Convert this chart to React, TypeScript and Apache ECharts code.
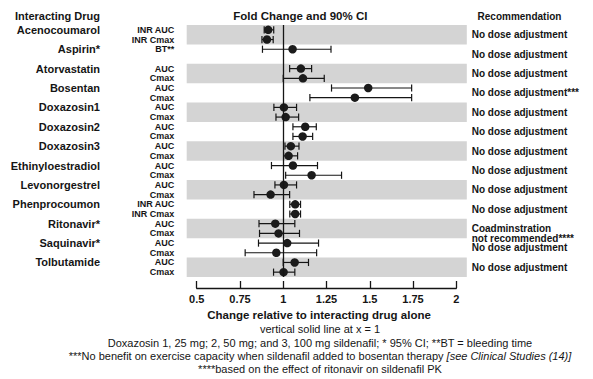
import React, { useEffect, useRef } from "react";
import * as echarts from "echarts";

const FONT = "'Liberation Sans', Arial, Helvetica, sans-serif";
const INK = "#151515";

const drugs = [
  "Acenocoumarol", "Aspirin*", "Atorvastatin", "Bosentan", "Doxazosin1", "Doxazosin2",
  "Doxazosin3", "Ethinyloestradiol", "Levonorgestrel", "Phenprocoumon", "Ritonavir*",
  "Saquinavir*", "Tolbutamide",
];

const recommendations = [
  "No dose adjustment", "No dose adjustment", "No dose adjustment", "No dose adjustment***",
  "No dose adjustment", "No dose adjustment", "No dose adjustment", "No dose adjustment",
  "No dose adjustment", "No dose adjustment", "\nCoadminstration\nnot recommended****",
  "No dose adjustment", "No dose adjustment",
];

const measures = [
  "INR AUC", "INR Cmax", "BT**", "", "AUC", "Cmax", "AUC", "Cmax", "AUC", "Cmax",
  "AUC", "Cmax", "AUC", "Cmax", "AUC", "Cmax", "AUC", "Cmax", "INR AUC", "INR Cmax",
  "AUC", "Cmax", "AUC", "Cmax", "AUC", "Cmax",
];

const foldChange = [
  0.913, 0.906, 1.054, null, 1.102, 1.114, 1.491, 1.414, 1.004, 1.014, 1.127, 1.112,
  1.044, 1.031, 1.056, 1.164, 1.004, 0.927, 1.069, 1.069, 0.954, 0.973, 1.023, 0.96,
  1.066, 1.002,
];
const ciLower = [
  0.89, 0.877, 0.88, null, 1.037, 1.0, 1.279, 1.154, 0.946, 0.958, 1.056, 1.056,
  1.01, 1.002, 0.932, 1.014, 0.952, 0.831, 1.038, 1.038, 0.86, 0.863, 0.857, 0.78,
  1.0, 0.944,
];
const ciUpper = [
  0.945, 0.942, 1.276, null, 1.164, 1.237, 1.742, 1.742, 1.077, 1.089, 1.191, 1.17,
  1.091, 1.083, 1.198, 1.337, 1.077, 1.037, 1.1, 1.1, 1.067, 1.094, 1.204, 1.193,
  1.146, 1.067,
];

const xAxisMin = 0.5;
const xAxisMax = 2;
const xAxisStep = 0.25;

const titleText = "Fold Change and 90% CI";
const leftHeader = "Interacting Drug";
const rightHeader = "Recommendation";
const xAxisTitle = "Change relative to interacting drug alone";
const footnotes = [
  "vertical solid line at x = 1",
  "Doxazosin 1, 25 mg; 2, 50 mg; and 3, 100 mg sildenafil; * 95% CI; **BT = bleeding time",
  "***No benefit on exercise capacity when sildenafil added to bosentan therapy {i|[see Clinical Studies (14)]}",
  "****based on the effect of ritonavir on sildenafil PK",
];

export default function App() {
  const ref = useRef<HTMLDivElement>(null);

  useEffect(() => {
    const chart = echarts.init(ref.current!, null, { renderer: "svg" });

    const slotIds = measures.map((_, i) => String(i));
    const groupIds = drugs.map((_, i) => String(i));
    const bandData = drugs
      .map((_, g) => g)
      .filter((g) => g % 2 === 0)
      .map((g) => [1, 2 * g, 2 * g + 1]);
    const errData: number[][] = [];
    const pointData: number[][] = [];
    foldChange.forEach((v, i) => {
      if (v == null) return;
      errData.push([i, ciLower[i] as number, ciUpper[i] as number]);
      pointData.push([v, i]);
    });

    const footYs = [329, 342.7, 355.7, 369];

    const option: any = {
      animation: false,
      backgroundColor: "#ffffff",
      textStyle: { fontFamily: FONT },
      grid: { left: 196.7, right: 136.7, top: 25, height: 252, containLabel: false },
      xAxis: {
        type: "value",
        min: xAxisMin,
        max: xAxisMax,
        interval: xAxisStep,
        offset: 11,
        axisLine: { show: true, lineStyle: { color: INK, width: 1.3 } },
        axisTick: { show: true, inside: true, length: 7, lineStyle: { color: INK, width: 1.3 } },
        axisLabel: {
          color: INK,
          fontFamily: FONT,
          fontWeight: "bold",
          fontSize: 11,
          margin: 5,
          showMinLabel: true,
          showMaxLabel: true,
        },
        splitLine: { show: false },
      },
      yAxis: [
        {
          type: "category",
          data: slotIds,
          inverse: true,
          position: "left",
          axisLine: { show: false },
          axisTick: { show: false },
          splitLine: { show: false },
          axisLabel: {
            interval: 0,
            margin: 22.4,
            color: INK,
            fontFamily: FONT,
            formatter: (_v: string, i: number) => {
              const m = measures[i];
              if (i % 2 === 0) return `{d|${drugs[i / 2]}}{m|${m}}`;
              return m ? `{m|${m}}` : "";
            },
            rich: {
              d: { width: 100, align: "right", fontSize: 11, fontWeight: "bold", color: INK, fontFamily: FONT },
              m: { width: 74.3, align: "right", fontSize: 9, fontWeight: "bold", color: INK, fontFamily: FONT },
            },
          },
        },
        {
          type: "category",
          data: groupIds,
          inverse: true,
          position: "right",
          axisLine: { show: false },
          axisTick: { show: false },
          splitLine: { show: false },
          axisLabel: {
            interval: 0,
            margin: 15.4,
            color: INK,
            fontFamily: FONT,
            fontWeight: "bold",
            fontSize: 10,
            lineHeight: 9.5,
            padding: [0, 0, 4, 0],
            formatter: (_v: string, i: number) => recommendations[i],
          },
        },
      ],
      series: [
        {
          type: "custom",
          name: "bands",
          clip: false,
          z: 1,
          silent: true,
          encode: { x: 0, y: [1, 2] },
          data: bandData,
          renderItem: (params: any, api: any) => {
            const h = api.size([0, 1])[1];
            const a = api.coord([1, api.value(1)])[1];
            const b = api.coord([1, api.value(2)])[1];
            const top = Math.min(a, b) - h / 2;
            const bottom = Math.max(a, b) + h / 2;
            const cs = params.coordSys;
            return {
              type: "rect",
              shape: { x: cs.x - 10, y: top, width: cs.width + 20.5, height: bottom - top },
              style: { fill: "#d4d4d4" },
            };
          },
        },
        {
          type: "custom",
          name: "ci",
          z: 3,
          silent: true,
          encode: { y: 0, x: [1, 2] },
          data: errData,
          renderItem: (_params: any, api: any) => {
            const lo = api.coord([api.value(1), api.value(0)]);
            const hi = api.coord([api.value(2), api.value(0)]);
            const cap = 3.6;
            const st = { stroke: INK, lineWidth: 1.2 };
            return {
              type: "group",
              children: [
                { type: "line", shape: { x1: lo[0], y1: lo[1], x2: hi[0], y2: hi[1] }, style: st },
                { type: "line", shape: { x1: lo[0], y1: lo[1] - cap, x2: lo[0], y2: lo[1] + cap }, style: st },
                { type: "line", shape: { x1: hi[0], y1: hi[1] - cap, x2: hi[0], y2: hi[1] + cap }, style: st },
              ],
            };
          },
        },
        {
          type: "scatter",
          name: "fold",
          z: 4,
          symbol: "circle",
          symbolSize: 8.5,
          itemStyle: { color: "#1b1b1b", opacity: 1 },
          data: pointData,
          markLine: {
            silent: true,
            symbol: ["none", "none"],
            label: { show: false },
            lineStyle: { color: INK, type: "solid", width: 1.3 },
            data: [{ xAxis: 1 }],
          },
        },
      ],
      graphic: [
        {
          type: "text",
          x: 300.3,
          y: 16,
          style: { text: titleText, align: "center", verticalAlign: "middle", fontFamily: FONT, fontWeight: "bold", fontSize: 11.5, fill: INK },
        },
        {
          type: "text",
          x: 15,
          y: 16,
          style: { text: leftHeader, align: "left", verticalAlign: "middle", fontFamily: FONT, fontWeight: "bold", fontSize: 11, fill: INK },
        },
        {
          type: "text",
          x: 519.5,
          y: 16,
          style: { text: rightHeader, align: "center", verticalAlign: "middle", fontFamily: FONT, fontWeight: "bold", fontSize: 10, fill: INK },
        },
        {
          type: "text",
          x: 319,
          y: 315,
          style: { text: xAxisTitle, align: "center", verticalAlign: "middle", fontFamily: FONT, fontWeight: "bold", fontSize: 11.5, fill: INK },
        },
        ...footnotes.map((t, i) => ({
          type: "text",
          x: 320,
          y: footYs[i],
          style: {
            text: t,
            align: "center",
            verticalAlign: "middle",
            fontFamily: FONT,
            fontSize: 11,
            fill: INK,
            rich: { i: { fontStyle: "italic", fontFamily: FONT, fontSize: 11, fill: INK } },
          },
        })),
      ],
    };

    chart.setOption(option);
    return () => chart.dispose();
  }, []);

  return (
    <div
      ref={ref}
      style={{ position: "fixed", left: 0, top: 0, width: 593, height: 379, background: "#fff" }}
    />
  );
}
